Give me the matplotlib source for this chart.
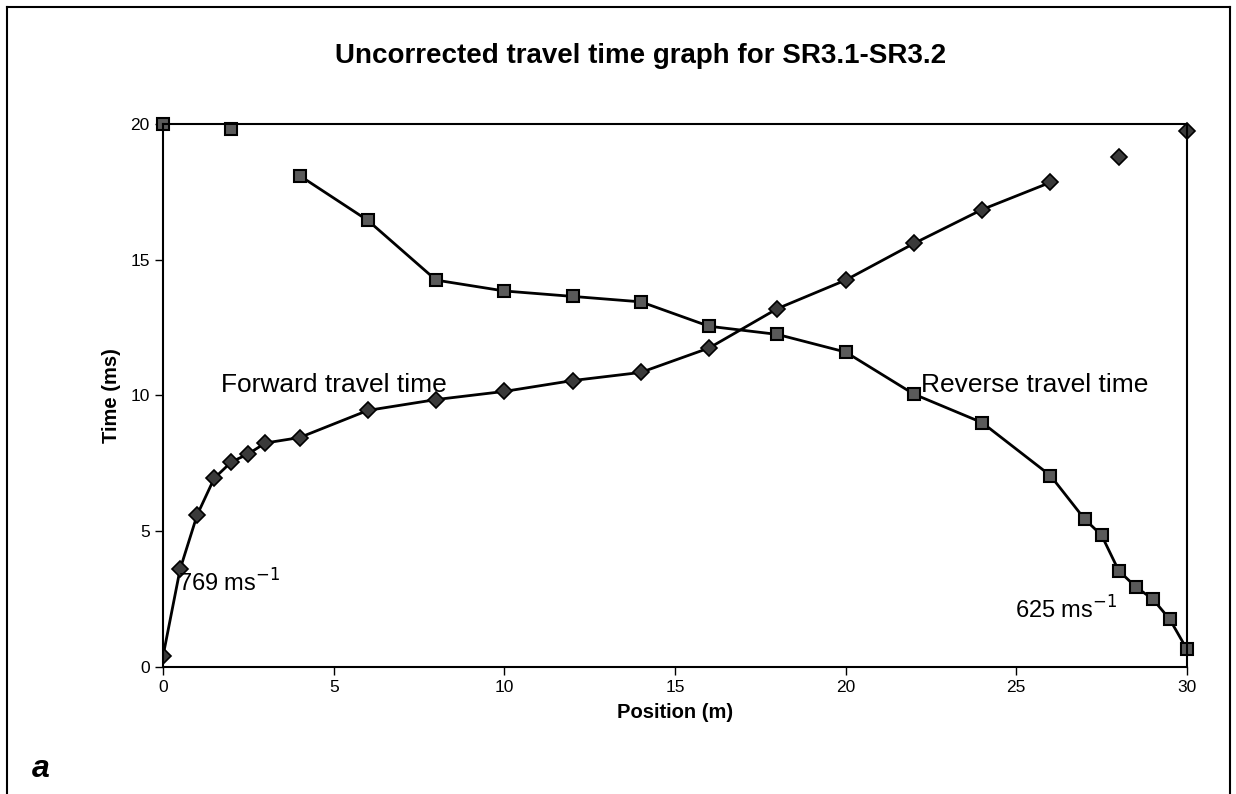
import matplotlib
matplotlib.use("Agg")
import matplotlib.pyplot as plt
from matplotlib.lines import Line2D

plt.rcParams['font.family'] = ['Liberation Sans', 'DejaVu Sans']

# forward shot (diamonds)
fwd_pos = [0, 0.5, 1, 1.5, 2, 2.5, 3, 4, 6, 8, 10, 12, 14, 16, 18, 20, 22, 24, 26]
fwd_time = [0.4, 3.6, 5.6, 6.95, 7.55, 7.85, 8.25, 8.45, 9.45, 9.85, 10.15, 10.55,
            10.85, 11.75, 13.2, 14.25, 15.6, 16.85, 17.85]
fwd_extra_pos = [28, 30]
fwd_extra_time = [18.8, 19.75]

# reverse shot (squares)
rev_pos = [4, 6, 8, 10, 12, 14, 16, 18, 20, 22, 24, 26, 27, 27.5, 28, 28.5, 29, 29.5, 30]
rev_time = [18.1, 16.45, 14.25, 13.85, 13.65, 13.45, 12.55, 12.25, 11.6, 10.05, 9.0,
            7.05, 5.45, 4.85, 3.55, 2.95, 2.5, 1.75, 0.65]
rev_extra_pos = [0, 2]
rev_extra_time = [20.0, 19.8]

fig = plt.figure(figsize=(12.36, 7.94), dpi=100)
ax = fig.add_axes([0.1319, 0.16, 0.8284, 0.6838])

d_style = dict(marker='D', markersize=8, markerfacecolor='#3a3a3a',
               markeredgecolor='black', markeredgewidth=1.2)
s_style = dict(marker='s', markersize=9, markerfacecolor='#5a5a5a',
               markeredgecolor='black', markeredgewidth=1.5)

ax.plot(fwd_pos, fwd_time, color='black', lw=2, **d_style)
ax.plot(fwd_extra_pos, fwd_extra_time, ls='none', **d_style, clip_on=False)
ax.plot(rev_pos, rev_time, color='black', lw=2, **s_style, clip_on=False)
ax.plot(rev_extra_pos, rev_extra_time, ls='none', **s_style, clip_on=False)

ax.set_xlim(0, 30)
ax.set_ylim(0, 20)
ax.set_xticks(range(0, 31, 5))
ax.set_yticks(range(0, 21, 5))
ax.tick_params(labelsize=12.5, length=6, width=1, direction='out')
for sp in ax.spines.values():
    sp.set_linewidth(1.5)

ax.set_xlabel("Position (m)", fontsize=14.5, fontweight='bold', labelpad=6)
ax.set_ylabel("Time (ms)", fontsize=14.5, fontweight='bold', labelpad=7)
fig.text(0.518, 0.93, "Uncorrected travel time graph for SR3.1-SR3.2",
         ha='center', va='center', fontsize=20, fontweight='bold')

ax.text(1.7, 10.4, "Forward travel time", fontsize=19, va='center')
ax.text(22.2, 10.4, "Reverse travel time", fontsize=19, va='center')
ax.text(0.45, 3.1, "769 ms$^{-1}$", fontsize=17, va='center')
ax.text(24.95, 2.1, "625 ms$^{-1}$", fontsize=17, va='center')

fig.text(0.026, 0.022, "a", fontsize=23, fontweight='bold', fontstyle='italic')

# outer frame
for xs, ys in [([0.006, 0.006], [0.0, 0.991]), ([0.006, 0.995], [0.991, 0.991]),
               ([0.995, 0.995], [0.0, 0.991])]:
    fig.add_artist(Line2D(xs, ys, color='black', lw=1.5, transform=fig.transFigure))

fig.savefig("out.png", dpi=100)
